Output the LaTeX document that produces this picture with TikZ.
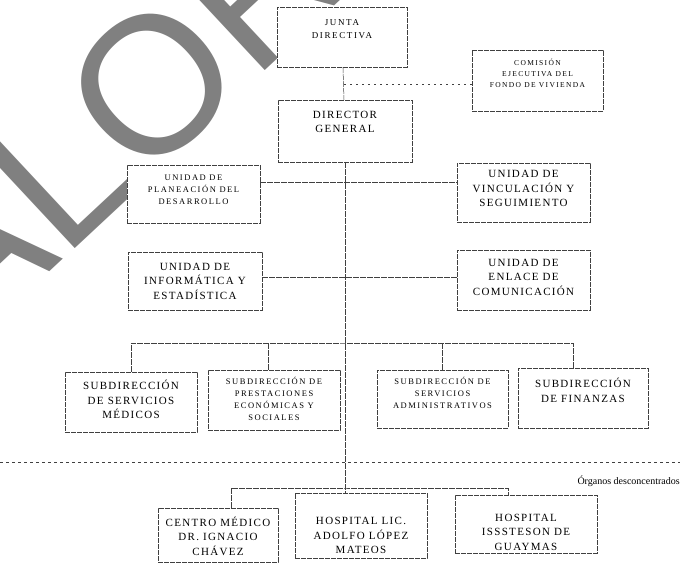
\documentclass[tikz,border=0pt]{standalone}
\usepackage{fontspec}
\setmainfont{Liberation Serif}
\newfontfamily\markfont{Liberation Sans}
\newfontfamily\bigboxfont[LetterSpace=12]{Liberation Serif}
\newfontfamily\smallboxfont[LetterSpace=18]{Liberation Serif}

\begin{document}
\begin{tikzpicture}[
			x=1pt,y=-1pt,
			every node/.style={
				inner sep=0pt,
			},
			box/.style={
				rectangle,
				draw=black!75,
				fill=white,
				line width=0.5pt,
				dash pattern=on 5pt off 1pt,
				minimum width=132pt,
				minimum height=60pt,
			},
			big/.style={
				align=center,
				font=\bigboxfont\fontsize{11}{14.5}\selectfont,
			},
			small/.style={
				align=center,
				font=\smallboxfont\fontsize{8.5}{12}\selectfont,
			},
			link/.style={
				draw=black!75,
				line width=0.5pt,
				dash pattern=on 6pt off 1pt,
			},
			every edge/.style={link},
			loose/.style={dash pattern=on 2pt off 4pt},
			separator/.style={draw=black!75, line width=0.5pt, dash pattern=on 3pt off 3pt},
			watermark/.style={rotate=43, anchor=base west, text=black!50,
				font=\markfont\fontsize{195}{200}\selectfont},
		]
		\useasboundingbox (0,0) rectangle (680,565);

		% watermark behind the boxes
		\begin{scope}
			\clip (0,0) rectangle (680,565);
			\node(marca) [watermark] at (-32,348) {ALOR};
		\end{scope}

		% top of the chart
		\node(junta) [box,minimum width=130pt,
			label={[small,font=\smallboxfont\fontsize{9}{13}\selectfont,yshift=7.5pt]center:JUNTA\\DIRECTIVA}] at (342,37) {};
		\node(comision) [box,minimum width=131pt,minimum height=61pt,
			label={[small,font=\smallboxfont\fontsize{7.5}{11}\selectfont,yshift=7.5pt]center:COMISIÓN\\EJECUTIVA DEL\\FONDO DE VIVIENDA}] at (537.5,80.5) {};
		\node(director) [box,minimum width=134pt,minimum height=62pt,
			label={[big,yshift=9pt]center:DIRECTOR\\GENERAL}] at (345,131) {};

		% staff units
		\node(planeacion) [box,minimum width=133pt,minimum height=58pt,
			label={[small,yshift=4.5pt]center:UNIDAD DE\\PLANEACIÓN DEL\\DESARROLLO}] at (193.5,194) {};
		\node(vinculacion) [box,minimum width=133pt,minimum height=59pt,
			label={[big,yshift=4pt]center:UNIDAD DE\\VINCULACIÓN Y\\SEGUIMIENTO}] at (523.5,192.5) {};
		\node(informatica) [box,minimum width=134pt,minimum height=58pt,
			label={[big]center:UNIDAD DE\\INFORMÁTICA Y\\ESTADÍSTICA}] at (195,281) {};
		\node(enlace) [box,minimum width=133pt,
			label={[big,yshift=3pt]center:UNIDAD DE\\ENLACE DE\\COMUNICACIÓN}] at (523.5,280) {};

		% subdirecciones
		\node(smedicos) [box,
			label={[big,yshift=2.5pt]center:SUBDIRECCIÓN\\DE SERVICIOS\\MÉDICOS}] at (131,402) {};
		\node(sprest) [box,
			label={[small,yshift=1pt]center:SUBDIRECCIÓN DE\\PRESTACIONES\\ECONÓMICAS Y\\SOCIALES}] at (274,400) {};
		\node(sadmin) [box,minimum width=131pt,minimum height=58pt,
			label={[small,yshift=6pt]center:SUBDIRECCIÓN DE\\SERVICIOS\\ADMINISTRATIVOS}] at (442.5,399) {};
		\node(sfinanzas) [box,minimum width=130pt,
			label={[big,yshift=7.5pt]center:SUBDIRECCIÓN\\DE FINANZAS}] at (583,398) {};

		% organos desconcentrados
		\node(cmedico) [box,minimum width=120pt,minimum height=54pt,
			label={[big,yshift=-1pt]center:CENTRO MÉDICO\\DR. IGNACIO\\CHÁVEZ}] at (218,535) {};
		\node(hlopez) [box,minimum height=65pt,
			label={[big,yshift=-10pt]center:HOSPITAL LIC.\\ADOLFO LÓPEZ\\MATEOS}] at (361,525.5) {};
		\node(guaymas) [box,minimum width=142pt,minimum height=58pt,
			label={[big,yshift=-8pt]center:HOSPITAL\\ISSSTESON DE\\GUAYMAS}] at (526,524) {};

		\coordinate(sepleft)  at (0,462);
		\coordinate(sepright) at (680,462);
		\node(organos) [anchor=east,font=\fontsize{10}{12}\selectfont] at (680,481) {Órganos desconcentrados};

		% connectors
		\path (junta) edge (director);
		\path ([yshift=-3.5pt]comision.west) edge[loose] ([yshift=-3.5pt]comision.west -| junta.south);
		\path (director.south) edge (director.south |- hlopez.north);
		\path ([yshift=12pt]planeacion.east) edge ([yshift=10.5pt]vinculacion.west);
		\path ([yshift=4pt]informatica.east) edge ([yshift=3pt]enlace.west);

		\coordinate(subbus) at (345,343);
		\draw[link] (smedicos.north) |- (subbus) -| ([xshift=-10pt]sfinanzas.north);
		\draw[link] ([xshift=-6pt]sprest.north) -- ([xshift=-6pt]sprest.north |- subbus);
		\draw[link] (sadmin.north) -- (sadmin.north |- subbus);

		\coordinate(hospbus) at (345,488);
		\draw[link] ([xshift=13pt]cmedico.north) |- (hospbus) -| ([xshift=-18pt]guaymas.north);

		\draw[separator] (sepleft) -- (sepright);
	\end{tikzpicture}
\end{document}
